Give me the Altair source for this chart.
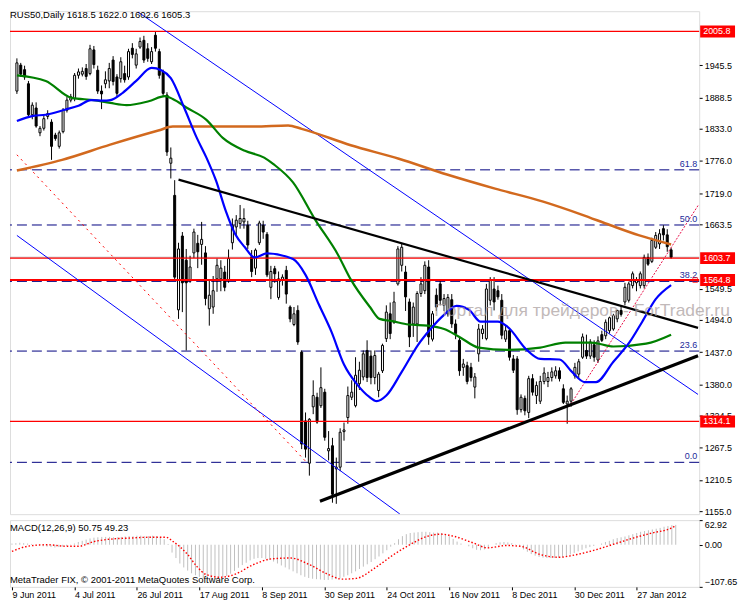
import json
import altair as alt
import pandas as pd

FONT = "Liberation Sans"
W = 692
H_MAIN = 505
H_MACD = 67
X_DOM = [-0.5, 176.0]
Y_DOM = [1149.7, 2041.65]
M_DOM = [-107.65, 62.92]

# ---------------- data ----------------
opens = [1900,1946,1938,1913,1858,1870,1826,1834,1855,1845,
         1822,1802,1828,1866,1884,1887,1928,1930,1940,1931,
         1973,1937,1900,1913,1918,1955,1925,1922,1931,1925,
         1976,1946,1978,1990,1975,1952,1999,1970,1934,1893,
         1772,1715,1512,1643,1600,1564,1613,1630,1628,1613,
         1514,1517,1567,1567,1579,1564,1631,1659,1665,1668,
         1662,1606,1586,1631,1662,1646,1552,1585,1534,1565,
         1582,1517,1486,1511,1437,1315,1240,1340,1357,1342,
         1366,1262,1271,1230,1233,1296,1321,1357,1342,1381,
         1393,1440,1430,1392,1369,1404,1461,1505,1490,1558,
         1591,1579,1526,1487,1487,1541,1546,1588,1460,1538,
         1558,1520,1505,1530,1487,1458,1410,1413,1410,1375,
         1434,1470,1461,1529,1549,1546,1529,1460,1475,1425,
         1425,1335,1355,1330,1390,1360,1350,1385,1385,1392,
         1395,1404,1372,1345,1350,1395,1398,1428,1440,1430,
         1450,1423,1468,1466,1475,1478,1496,1511,1526,1529,
         1555,1560,1555,1555,1605,1598,1623,1629,1656,1645,
         1618.5]
highs = [1958,1950,1945,1918,1880,1880,1838,1856,1866,1850,
         1826,1830,1870,1890,1895,1932,1940,1942,1948,1982,
         1980,1945,1910,1935,1950,1962,1930,1960,1945,1975,
         1985,1975,1995,1998,1985,1978,2005.8,1975,1938,1898,
         1800,1742,1631,1650,1620,1608,1656,1645,1668,1625,
         1564,1572,1603,1600,1590,1619,1674,1680,1698,1692,
         1670,1618,1621,1670,1670,1650,1590,1590,1580,1575,
         1590,1520,1517,1520,1440,1330,1320,1387,1365,1410,
         1372,1297,1285,1250,1302,1312,1376,1387,1428,1420,
         1440,1458,1440,1440,1402,1452,1520,1525,1544,1625,
         1629,1590,1532,1525,1545,1570,1598,1600,1510,1550,
         1565,1540,1540,1540,1495,1465,1425,1420,1418,1400,
         1487,1485,1558,1570,1570,1555,1540,1485,1480,1432,
         1430,1362,1360,1395,1398,1385,1395,1410,1402,1410,
         1412,1410,1380,1360,1375,1418,1425,1470,1468,1460,
         1458,1465,1475,1495,1500,1505,1512,1520,1560,1562,
         1580,1570,1580,1610,1612,1640,1650,1655,1662,1655,
         1622.0]
lows = [1895,1925,1920,1855,1850,1835,1820,1830,1850,1778,
        1812,1798,1825,1862,1880,1882,1922,1926,1920,1928,
        1940,1895,1868,1905,1905,1910,1890,1915,1915,1920,
        1958,1940,1975,1950,1952,1948,1970,1922,1890,1785,
        1745,1565,1496,1508,1440,1560,1604,1586,1592,1520,
        1484,1505,1544,1545,1545,1560,1619,1643,1656,1656,
        1620,1570,1574,1627,1638,1570,1531,1560,1530,1555,
        1523,1490,1483,1450,1265,1250,1218,1327,1310,1338,
        1280,1245,1170,1168,1226,1280,1310,1352,1339,1370,
        1387,1384,1380,1380,1357,1400,1455,1460,1487,1555,
        1580,1510,1446,1464,1455,1535,1540,1450,1456,1510,
        1520,1510,1500,1480,1460,1395,1395,1380,1385,1355,
        1420,1460,1458,1520,1511,1530,1460,1455,1422,1400,
        1326,1330,1325,1320,1360,1345,1345,1380,1375,1385,
        1390,1385,1345,1310,1340,1390,1390,1425,1425,1425,
        1420,1418,1455,1460,1470,1475,1490,1500,1520,1525,
        1550,1545,1550,1550,1590,1595,1620,1620,1635,1615,
        1602.6]
closes = [1950,1930,1925,1858,1875,1838,1834,1851,1860,1802,
          1816,1826,1866,1884,1890,1928,1934,1935,1926,1975,
          1947,1900,1895,1920,1940,1917,1896,1952,1920,1970,
          1965,1966,1988,1955,1958,1970,1976,1928,1896,1792,
          1781,1570,1620,1560,1560,1588,1650,1615,1637,1532,
          1538,1546,1591,1586,1552,1603,1662,1671,1674,1674,
          1627,1580,1618,1666,1650,1574,1580,1576,1567,1570,
          1540,1496,1505,1455,1274,1265,1318,1360,1313,1374,
          1286,1266,1185,1233,1295,1299,1360,1366,1396,1405,
          1434,1392,1392,1431,1398,1449,1508,1470,1526,1620,
          1623,1535,1464,1517,1541,1558,1591,1464,1505,1517,
          1529,1532,1534,1487,1470,1404,1416,1385,1392,1393,
          1478,1478,1549,1564,1526,1535,1467,1475,1428,1405,
          1335,1357,1333,1390,1366,1378,1385,1400,1392,1402,
          1404,1390,1348,1350,1372,1410,1420,1464,1430,1455,
          1428,1457,1458,1490,1498,1502,1511,1504,1552,1558,
          1576,1565,1576,1605,1593,1635,1644,1647,1645,1624,
          1605.3]

# moving averages (knots: bar index, price)
blue_ma_i = [0,4.25,7.5,12.5,16,19.25,22.5,24.25,27.5,31,35,37.5,40,43.5,46.75,49.25,51.75,54.25,56.75,59.25,
             61.75,65,71.75,75,78.5,81.75,85,88.5,91.5,93.5,96,100,104.25,107.5,111,114.25,117.5,120.5,125,127.5,
             132.5,136,141,144.25,147.5,150.5,155,159.25,162.5,166,170]
blue_ma_p = [1847,1856,1858,1867,1874,1884,1883,1884,1897,1918,1941,1937,1923,1870,1817,1782,1741,1688,1646,1623,
             1605,1612,1602,1574,1521,1473,1415,1379,1358,1350,1360,1402,1450,1478,1503,1519,1512,1491,1491,1482,
             1441,1425,1424,1402,1384,1384,1420,1455,1491,1531,1556]
green_ma_i = [0,7.5,14.25,20,24.25,28.5,34.25,38.5,40.5,44.25,49.25,53.5,59.25,64.25,66.75,71.75,77.5,83.5,86.75,91.75,
              94.25,97.5,101.75,106.75,111,115,120,127.5,136,142.5,149.25,155,163.5,170]
green_ma_p = [1928,1918,1888,1884,1879,1875,1882,1891,1886,1870,1849,1817,1794,1782,1770,1738,1672,1609,1566,1517,
              1496,1492,1486,1484,1478,1464,1445,1441,1445,1454,1454,1447,1452,1468]
orange_ma_i = [0,11.75,24.25,36.75,40.5,49,61.75,70.5,74,86.75,99.25,111.75,124.25,136.75,146.75,154.25,161.75,170]
orange_ma_p = [1759,1778,1805,1830,1837,1837,1837,1839,1833,1804,1780,1752,1727,1704,1681,1662,1644,1628]

# trend / channel lines (two end points each: bar index, price)
black_up_i, black_up_p = [42, 177], [1743, 1480]
black_lo_i, black_lo_p = [78.75, 177], [1172.7, 1430.6]
blue_up_i, blue_up_p = [31.5, 177], [2040, 1362]
blue_lo_i, blue_lo_p = [0, 99.5], [1644, 1150]
red_dot_i, red_dot_p = [0, 75.5], [1787, 1240]
red_rise_i, red_rise_p = [143.5, 177], [1340, 1697]

# horizontal levels
red_levels = [2005.8, 1603.7, 1314.1]
red_thick_level = [1564.8]
box_levels = [2005.8, 1603.7, 1564.8, 1314.1]
fib_levels = [1760.3, 1662.5, 1562.5, 1438.9, 1241.6]
fib_labels = ["61.8", "50.0", "38.2", "23.6", "0.0"]

price_ticks = [1945.5, 1888.5, 1833.0, 1776.0, 1719.0, 1663.5, 1549.5, 1494.0,
               1437.0, 1380.0, 1324.5, 1267.5, 1210.5, 1155.0]
date_idx = [0, 16, 32, 48, 64, 80, 96, 112, 128, 144, 160]
date_labels = ["9 Jun 2011", "4 Jul 2011", "26 Jul 2011", "17 Aug 2011", "8 Sep 2011",
               "30 Sep 2011", "24 Oct 2011", "16 Nov 2011", "8 Dec 2011", "30 Dec 2011",
               "27 Jan 2012"]

macd_hist = [3, 4, 5, 4, 3, 2, 0, -2, -4, -5,
             -6, -7, -6, -5, -3, -1,
             3, 7, 10, 13, 16,
             18, 19, 20, 20, 20, 19, 19, 20, 21, 22,
             22, 23, 23, 22, 22, 23, 22, 20, 14,
             2,
             -20, -34, -48, -58, -66, -73, -78, -82, -85,
             -86, -87, -87, -86, -84, -80,
             -74, -67, -59, -52, -46, -40, -36, -34, -34, -36, -39,
             -43, -48, -53, -58, -63, -68, -73, -78, -82, -85,
             -87, -88, -89, -90, -90, -89, -88, -86, -82, -78,
             -73, -68, -62, -56, -50, -44, -37, -30, -22, -14,
             -5, 4, 14, 22, 27, 30, 31, 32, 33, 33,
             32, 31, 31, 30, 27, 22, 15, 8, 3, 0,
             -4, -9, -13, -14, -12, -6, 0, 4, 6, 7,
             6, 4, 1, -5, -12, -18, -24, -28, -31, -33,
             -34, -34, -34, -33, -32, -29, -25, -21, -17, -13,
             -9, -6, -3, 0, 3, 7, 10, 14, 17, 19,
             21, 24, 27, 30, 33, 35, 37, 39, 41, 43,
             46, 48, 50, 50.75]
sig_i = [0,4,9,14,17,21,26,30,35,39.5,41.3,45,47.3,49.7,53.3,57,61.8,66.6,71.4,76.2,
         81,84.6,88.2,93,97.8,102.6,106.2,109.8,113.4,118.3,121.8,126.6,130.3,135,140,144.7,
         149.5,154.3,159.1,163.9,168.7,170]
sig_v = [-17,-4,0,-4,-4,8,15,17,19,19,8,-25,-55,-76,-83,-76,-51,-36,-34,-51,
         -76,-88,-86,-59,-25,4,21,27,21,4,-8,-2,-4,-24,-32,-25,
         -13,2,17,30,42,49.23]

# ---------------- tables ----------------
n = len(opens)
idx = list(range(n))
df = pd.DataFrame({"i": idx, "o": opens, "h": highs, "l": lows, "c": closes})

xs = alt.Scale(domain=X_DOM, nice=False, zero=False)
ys = alt.Scale(domain=Y_DOM, nice=False, zero=False)
ms = alt.Scale(domain=M_DOM, nice=False, zero=False)

yaxis = alt.Axis(orient="right", values=price_ticks, format=".1f", tickSize=3, labelPadding=2,
                 grid=False, title=None, domain=False, labelFont=FONT, labelFontSize=9,
                 labelColor="black", tickColor="black", labelOverlap=False)


def X(f="i:Q"):
    return alt.X(f, scale=xs, axis=None)


def Y(f):
    return alt.Y(f, scale=ys, axis=yaxis)


def line_df(ii, pp):
    return pd.DataFrame({"i": ii, "p": pp})


layers = []

# levels
layers.append(alt.Chart(pd.DataFrame({"p": fib_levels})).mark_rule(
    color="#000080", strokeWidth=1, strokeDash=[10, 5]).encode(y=Y("p:Q")))
layers.append(alt.Chart(pd.DataFrame({"p": [closes[-1]]})).mark_rule(
    color="#b8b8b8", strokeWidth=1).encode(y=Y("p:Q")))

# candles
layers.append(alt.Chart(df).mark_rule(color="black", strokeWidth=1).encode(
    x=X(), y=Y("l:Q"), y2="h:Q"))
layers.append(alt.Chart(df).mark_bar(size=2, stroke="black", strokeWidth=1, orient="vertical").encode(
    x=X(), y=Y("o:Q"), y2="c:Q",
    fill=alt.condition("datum.c >= datum.o", alt.value("white"), alt.value("black"))))

layers.append(alt.Chart(pd.DataFrame({"p": red_levels})).mark_rule(
    color="#ff0000", strokeWidth=1.2).encode(y=Y("p:Q")))
layers.append(alt.Chart(pd.DataFrame({"p": red_thick_level})).mark_rule(
    color="#ff0000", strokeWidth=2).encode(y=Y("p:Q")))

# channel / trend lines
layers.append(alt.Chart(line_df(blue_up_i, blue_up_p)).mark_line(
    color="#0000ff", strokeWidth=1, clip=True).encode(x=X(), y=Y("p:Q")))
layers.append(alt.Chart(line_df(blue_lo_i, blue_lo_p)).mark_line(
    color="#0000ff", strokeWidth=1, clip=True).encode(x=X(), y=Y("p:Q")))
layers.append(alt.Chart(line_df(red_dot_i, red_dot_p)).mark_line(
    color="#ff0000", strokeWidth=1, strokeDash=[2, 4], clip=True).encode(x=X(), y=Y("p:Q")))
layers.append(alt.Chart(line_df(red_rise_i, red_rise_p)).mark_line(
    color="#e8104a", strokeWidth=1, strokeDash=[2, 1.5], clip=True).encode(x=X(), y=Y("p:Q")))

# moving averages
layers.append(alt.Chart(line_df(orange_ma_i, orange_ma_p)).mark_line(
    color="#d2691e", strokeWidth=2.5, interpolate="monotone").encode(x=X(), y=Y("p:Q")))
layers.append(alt.Chart(line_df(green_ma_i, green_ma_p)).mark_line(
    color="#008000", strokeWidth=2.2, interpolate="monotone").encode(x=X(), y=Y("p:Q")))
layers.append(alt.Chart(line_df(blue_ma_i, blue_ma_p)).mark_line(
    color="#0000ff", strokeWidth=2.2, interpolate="monotone").encode(x=X(), y=Y("p:Q")))

layers.append(alt.Chart(line_df(black_up_i, black_up_p)).mark_line(
    color="black", strokeWidth=2.2, clip=True).encode(x=X(), y=Y("p:Q")))
layers.append(alt.Chart(line_df(black_lo_i, black_lo_p)).mark_line(
    color="black", strokeWidth=3.2, clip=True).encode(x=X(), y=Y("p:Q")))

# watermark
layers.append(alt.Chart(pd.DataFrame({"t": ["Портал для трейдеров - ForTrader.ru"]})).mark_text(
    align="left", baseline="middle", font=FONT, fontSize=17.5, color="#a89c9c", opacity=0.7).encode(
    x=alt.value(426), y=alt.value(301), text="t:N"))

# fib labels
layers.append(alt.Chart(pd.DataFrame({"p": fib_levels, "lab": fib_labels})).mark_text(
    align="right", baseline="bottom", font=FONT, fontSize=9, color="#1a2a9a", dy=-1).encode(
    x=alt.value(W - 2), y=Y("p:Q"), text="lab:N"))

# red price boxes on the scale
layers.append(alt.Chart(pd.DataFrame({"p": box_levels})).mark_rule(
    color="#ff0000", strokeWidth=12, strokeCap="butt").encode(
    x=alt.value(W + 1), x2=alt.value(W + 36), y=Y("p:Q")))
layers.append(alt.Chart(pd.DataFrame({"p": box_levels})).mark_text(
    align="left", baseline="middle", font=FONT, fontSize=9, color="white").encode(
    x=alt.value(W + 4), y=Y("p:Q"), text=alt.Text("p:Q", format=".1f")))
layers.append(alt.Chart(pd.DataFrame({"p": red_thick_level})).mark_point(
    shape="square", size=22, filled=False, color="#ff0000", strokeWidth=1).encode(
    x=alt.value(W - 4), y=Y("p:Q")))

# header
header = f"RUS50,Daily  {opens[-1]:.1f} {highs[-1]:.1f} {lows[-1]:.1f} {closes[-1]:.1f}"
layers.append(alt.Chart(pd.DataFrame({"t": [header]})).mark_text(
    align="left", baseline="middle", font=FONT, fontSize=9.5, color="black").encode(
    x=alt.value(0), y=alt.value(4), text="t:N"))

main = alt.layer(*layers).properties(width=W, height=H_MAIN)

# ---------------- MACD panel ----------------
mdf = pd.DataFrame({"i": idx, "h": macd_hist})
sdf = pd.DataFrame({"i": sig_i, "v": sig_v})
xaxis = alt.Axis(values=date_idx,
                 labelExpr=f"{json.dumps(date_labels)}[indexof({json.dumps(date_idx)}, datum.value)]",
                 labelAlign="left", labelPadding=1, tickSize=3, grid=False, title=None, domain=False,
                 labelFont=FONT, labelFontSize=9, labelColor="black", tickColor="black",
                 labelOverlap=False, labelFlush=False)
maxis = alt.Axis(orient="right", values=[62.92, 0, -107.65], format=".2f", tickSize=3, labelPadding=2,
                 grid=False, title=None, domain=False, labelFont=FONT, labelFontSize=9,
                 labelColor="black", tickColor="black", labelFlush=True, labelOverlap=False)

hist = alt.Chart(mdf).transform_calculate(z="0").mark_rule(color="#c0c0c0", strokeWidth=1).encode(
    x=alt.X("i:Q", scale=xs, axis=xaxis), y=alt.Y("h:Q", scale=ms, axis=maxis), y2="z:Q")
sig = alt.Chart(sdf).mark_line(color="#ff0000", strokeWidth=1.4, strokeDash=[1.5, 2],
                               interpolate="monotone").encode(
    x=alt.X("i:Q", scale=xs, axis=xaxis), y=alt.Y("v:Q", scale=ms, axis=maxis))
macd_title = f"MACD(12,26,9) {macd_hist[-1]:.2f} {sig_v[-1]:.2f}"
t1 = alt.Chart(pd.DataFrame({"t": [macd_title]})).mark_text(
    align="left", baseline="middle", font=FONT, fontSize=9.5, color="black").encode(
    x=alt.value(0), y=alt.value(8), text="t:N")
t2 = alt.Chart(pd.DataFrame({"t": ["MetaTrader FIX, © 2001-2011 MetaQuotes Software Corp."]})).mark_text(
    align="left", baseline="middle", font=FONT, fontSize=9.5, color="black").encode(
    x=alt.value(0), y=alt.value(60), text="t:N")

macd = alt.layer(hist, sig, t1, t2).properties(width=W, height=H_MACD)

chart = alt.vconcat(main, macd, spacing=2).properties(padding=0).configure_view(
    stroke="black", strokeWidth=1).configure(background="white")

chart.save("out.html", embed_options={"renderer": "svg", "actions": False})
